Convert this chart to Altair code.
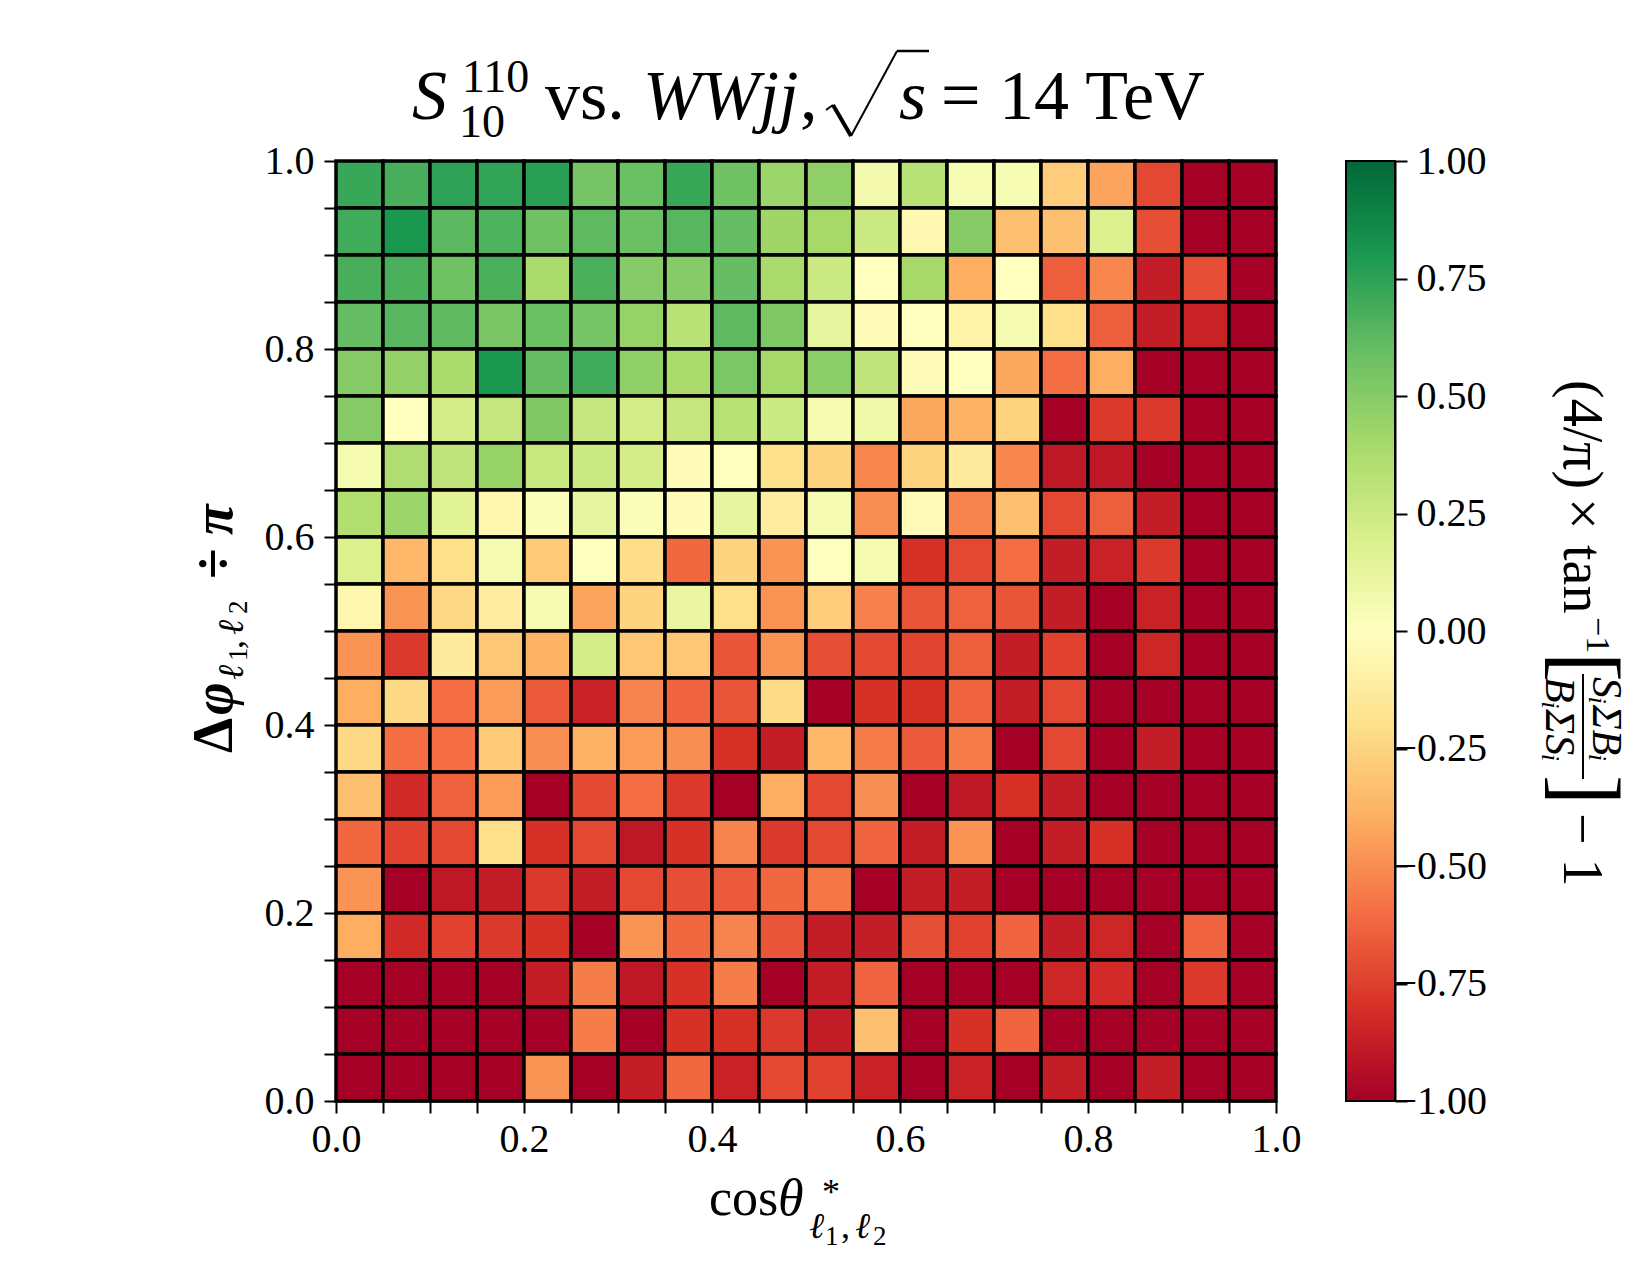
import altair as alt
import pandas as pd

FONT = "Liberation Serif"

# Bin layout: 20 x 20 bins on [0,1] x [0,1]
n_bins = 20
bin_w = 0.05

# Cell values, one list per Δφ/π row, from top (0.95–1.00) to bottom (0.00–0.05);
# each list runs over cosθ* bins from 0.00 to 1.00.
row_095 = [0.72, 0.68, 0.75, 0.74, 0.76, 0.55, 0.58, 0.72, 0.57, 0.43, 0.47, 0.07, 0.33, 0.04, 0.04, -0.28, -0.43, -0.72, -1.0, -1.0]
row_090 = [0.70, 0.80, 0.63, 0.66, 0.57, 0.62, 0.58, 0.64, 0.60, 0.42, 0.40, 0.25, -0.05, 0.50, -0.33, -0.33, 0.18, -0.70, -1.0, -1.0]
row_085 = [0.68, 0.67, 0.57, 0.67, 0.38, 0.67, 0.50, 0.50, 0.60, 0.38, 0.25, 0.0, 0.40, -0.40, 0.0, -0.65, -0.52, -0.88, -0.70, -1.0]
row_080 = [0.60, 0.64, 0.62, 0.54, 0.58, 0.55, 0.45, 0.33, 0.62, 0.52, 0.12, -0.02, 0.0, -0.08, 0.05, -0.20, -0.65, -0.88, -0.86, -1.0]
row_075 = [0.50, 0.46, 0.38, 0.80, 0.60, 0.70, 0.47, 0.38, 0.53, 0.40, 0.48, 0.30, -0.02, 0.0, -0.42, -0.60, -0.40, -1.0, -1.0, -1.0]
row_070 = [0.50, 0.0, 0.22, 0.28, 0.52, 0.28, 0.22, 0.28, 0.33, 0.25, 0.05, 0.09, -0.42, -0.38, -0.25, -1.0, -0.77, -0.77, -1.0, -1.0]
row_065 = [0.06, 0.36, 0.30, 0.45, 0.27, 0.25, 0.22, -0.02, 0.0, -0.20, -0.25, -0.52, -0.25, -0.13, -0.52, -0.90, -0.90, -1.0, -1.0, -1.0]
row_060 = [0.35, 0.43, 0.15, -0.06, 0.02, 0.12, 0.02, -0.02, 0.12, -0.12, 0.06, -0.50, -0.03, -0.53, -0.33, -0.72, -0.65, -0.88, -1.0, -1.0]
row_055 = [0.18, -0.36, -0.20, 0.05, -0.29, 0.0, -0.21, -0.62, -0.25, -0.48, 0.0, 0.06, -0.80, -0.72, -0.60, -0.88, -0.86, -0.77, -1.0, -1.0]
row_050 = [-0.06, -0.48, -0.23, -0.12, 0.05, -0.43, -0.25, 0.11, -0.20, -0.48, -0.28, -0.54, -0.68, -0.64, -0.68, -0.88, -1.0, -0.86, -1.0, -1.0]
row_045 = [-0.48, -0.77, -0.13, -0.30, -0.38, 0.22, -0.30, -0.30, -0.68, -0.48, -0.70, -0.72, -0.73, -0.65, -0.88, -0.74, -1.0, -0.84, -1.0, -1.0]
row_040 = [-0.40, -0.23, -0.60, -0.46, -0.66, -0.86, -0.53, -0.63, -0.68, -0.22, -1.0, -0.80, -0.80, -0.63, -0.88, -0.72, -1.0, -1.0, -1.0, -1.0]
row_035 = [-0.23, -0.60, -0.60, -0.29, -0.50, -0.38, -0.46, -0.50, -0.80, -0.88, -0.36, -0.55, -0.66, -0.55, -1.0, -0.72, -1.0, -0.88, -1.0, -1.0]
row_030 = [-0.33, -0.83, -0.64, -0.46, -1.0, -0.72, -0.60, -0.77, -1.0, -0.40, -0.72, -0.50, -1.0, -0.90, -0.80, -0.88, -1.0, -1.0, -1.0, -1.0]
row_025 = [-0.62, -0.74, -0.72, -0.20, -0.80, -0.72, -0.90, -0.80, -0.53, -0.77, -0.72, -0.63, -0.88, -0.48, -1.0, -0.88, -0.80, -1.0, -1.0, -1.0]
row_020 = [-0.48, -1.0, -0.90, -0.88, -0.77, -0.88, -0.72, -0.70, -0.66, -0.62, -0.57, -1.0, -0.88, -0.88, -1.0, -1.0, -1.0, -1.0, -1.0, -1.0]
row_015 = [-0.40, -0.83, -0.74, -0.77, -0.80, -1.0, -0.48, -0.62, -0.53, -0.68, -0.88, -0.88, -0.70, -0.74, -0.63, -0.88, -0.84, -1.0, -0.63, -1.0]
row_010 = [-1.0, -1.0, -1.0, -1.0, -0.88, -0.55, -0.90, -0.80, -0.55, -1.0, -0.88, -0.63, -1.0, -1.0, -1.0, -0.84, -0.82, -1.0, -0.77, -1.0]
row_005 = [-1.0, -1.0, -1.0, -1.0, -1.0, -0.55, -1.0, -0.80, -0.80, -0.77, -0.88, -0.33, -1.0, -0.80, -0.63, -1.0, -1.0, -1.0, -1.0, -1.0]
row_000 = [-1.0, -1.0, -1.0, -1.0, -0.48, -1.0, -0.88, -0.62, -0.86, -0.72, -0.74, -0.86, -1.0, -0.86, -1.0, -0.88, -1.0, -0.88, -1.0, -1.0]

rows_top_to_bottom = [row_095, row_090, row_085, row_080, row_075, row_070, row_065,
                      row_060, row_055, row_050, row_045, row_040, row_035, row_030,
                      row_025, row_020, row_015, row_010, row_005, row_000]

axis_ticks = [round(k * bin_w, 2) for k in range(n_bins + 1)]
cbar_ticks = [-1.0, -0.75, -0.5, -0.25, 0.0, 0.25, 0.5, 0.75, 1.0]

# matplotlib RdYlGn anchors
rdylgn = ["#a50026", "#d73027", "#f46d43", "#fdae61", "#fee08b", "#ffffbf",
          "#d9ef8b", "#a6d96a", "#66bd63", "#1a9850", "#006837"]
rdylgn_stops = [-1.0, -0.8, -0.6, -0.4, -0.2, 0.0, 0.2, 0.4, 0.6, 0.8, 1.0]

recs = []
for t, row in enumerate(rows_top_to_bottom):
    j = n_bins - 1 - t
    for i, v in enumerate(row):
        recs.append({"x0": round(i * bin_w, 2), "x1": round((i + 1) * bin_w, 2),
                     "y0": round(j * bin_w, 2), "y1": round((j + 1) * bin_w, 2), "v": v})
df = pd.DataFrame(recs)

W, H = 940, 940
label_expr = "(round(datum.value*100) % 20 == 0) ? format(datum.value, '.1f') : ''"

common_axis = dict(values=axis_ticks, labelExpr=label_expr, title=None, grid=False,
                   tickSize=12, tickWidth=2, tickColor="black", domainColor="black",
                   domainWidth=2, labelFont=FONT, labelFontSize=40, labelColor="black",
                   labelFlush=False, labelOverlap=False)

heat = alt.Chart(df).mark_rect(stroke="black", strokeWidth=3.5).encode(
    x=alt.X("x0:Q", scale=alt.Scale(domain=[0, 1], nice=False, zero=False),
            axis=alt.Axis(labelPadding=6, **common_axis)),
    x2="x1:Q",
    y=alt.Y("y0:Q", scale=alt.Scale(domain=[0, 1], nice=False, zero=False),
            axis=alt.Axis(labelPadding=10, **common_axis)),
    y2="y1:Q",
    color=alt.Color("v:Q", scale=alt.Scale(domain=rdylgn_stops, range=rdylgn, interpolate="rgb"),
                    legend=None),
)

grad = alt.LinearGradient(
    gradient="linear",
    stops=[alt.GradientStop(color=c, offset=(s + 1) / 2) for c, s in zip(rdylgn, rdylgn_stops)],
    x1=0, x2=0, y1=1, y2=0,
)

cbar = alt.Chart(pd.DataFrame({"lo": [-1.0], "hi": [1.0]})).mark_rect(
    fill=grad, stroke="black", strokeWidth=2
).encode(
    x=alt.value(1010), x2=alt.value(1059),
    y=alt.Y("lo:Q", scale=alt.Scale(domain=[-1, 1], nice=False, zero=False),
            axis=alt.Axis(orient="right", offset=119, values=cbar_ticks, format=".2f",
                          title=None, grid=False, tickSize=12, tickWidth=2, tickColor="black",
                          domainColor="black", domainWidth=2, labelFont=FONT, labelFontSize=40,
                          labelColor="black", labelFlush=False, labelOverlap=False,
                          labelPadding={"condition": {"test": "datum.value < 0", "value": -13},
                                        "value": 9})),
    y2="hi:Q",
)


def txt(s, x, y, size, style="normal", weight="normal", angle=0):
    return alt.Chart(pd.DataFrame({"s": [s]})).mark_text(
        font=FONT, fontSize=size, fontStyle=style, fontWeight=weight, angle=angle,
        align="left", baseline="alphabetic", color="black"
    ).encode(x=alt.value(x), y=alt.value(y), text="s:N")


def seg(x1, y1, x2, y2, w=2.0):
    return alt.Chart(pd.DataFrame({"a": [0]})).mark_rule(color="black", strokeWidth=w).encode(
        x=alt.value(x1), y=alt.value(y1), x2=alt.value(x2), y2=alt.value(y2))


title_parts = [
    txt("S", 76, -42, 70, style="italic"),
    txt("110", 126, -69, 46),
    txt("10", 123, -24, 46),
    txt("vs.", 209, -42, 70),
    txt("WWjj", 307, -42, 70, style="italic"),
    txt(",", 464, -42, 70),
    seg(490, -51, 497, -56, 2),
    seg(497, -56, 515, -25, 4),
    seg(515, -25, 561, -110, 2),
    seg(561, -110, 593, -110, 2.5),
    txt("s", 563, -42, 70, style="italic"),
    txt("=", 605, -42, 70),
    txt("14 TeV", 663, -42, 70),
]

ylabel_parts = [
    txt("Δ", -104, 592, 56, weight="bold", angle=270),
    txt("φ", -104, 554, 56, style="italic", weight="bold", angle=270),
    txt("ℓ", -93, 519, 36, style="italic", angle=270),
    txt("1", -89, 500, 27, angle=270),
    txt(",", -93, 488, 36, angle=270),
    txt("ℓ", -93, 474, 36, style="italic", angle=270),
    txt("2", -89, 453, 27, angle=270),
    txt("÷", -104, 418, 56, weight="bold", angle=270),
    txt("π", -104, 374, 56, style="italic", weight="bold", angle=270),
]

xlabel_parts = [
    txt("cos", 373, 1054, 52),
    txt("θ", 442, 1054, 52, style="italic"),
    txt("*", 486, 1043, 36),
    txt("ℓ", 473, 1077, 36, style="italic"),
    txt("1", 489, 1084, 27),
    txt(",", 505, 1077, 36),
    txt("ℓ", 519, 1077, 36, style="italic"),
    txt("2", 537, 1084, 27),
]

cbar_label_parts = [
    txt("(4/π)", 1228, 219, 56, angle=90),
    txt("×", 1228, 337, 56, angle=90),
    txt("tan", 1228, 384, 56, angle=90),
    txt("−1", 1251, 456, 34, angle=90),
    txt("[", 1221, 491, 90, angle=90),
    txt("SᵢΣBᵢ", 1257, 516, 42, style="italic", angle=90),
    seg(1247, 513, 1247, 618, 2),
    txt("BᵢΣSᵢ", 1210, 516, 42, style="italic", angle=90),
    txt("]", 1221, 614, 90, angle=90),
    txt("− 1", 1228, 652, 56, angle=90),
]

chart = alt.layer(
    heat, cbar, *title_parts, *ylabel_parts, *xlabel_parts, *cbar_label_parts
).resolve_scale(y="independent").resolve_axis(y="independent").properties(
    width=W, height=H,
    autosize=alt.AutoSizeParams(type="none"),
    padding={"left": 328, "top": 153, "right": 364, "bottom": 171},
    background="white",
).configure_view(stroke="black", strokeWidth=2)

chart.save("out.html", embed_options={"renderer": "svg", "actions": False})
